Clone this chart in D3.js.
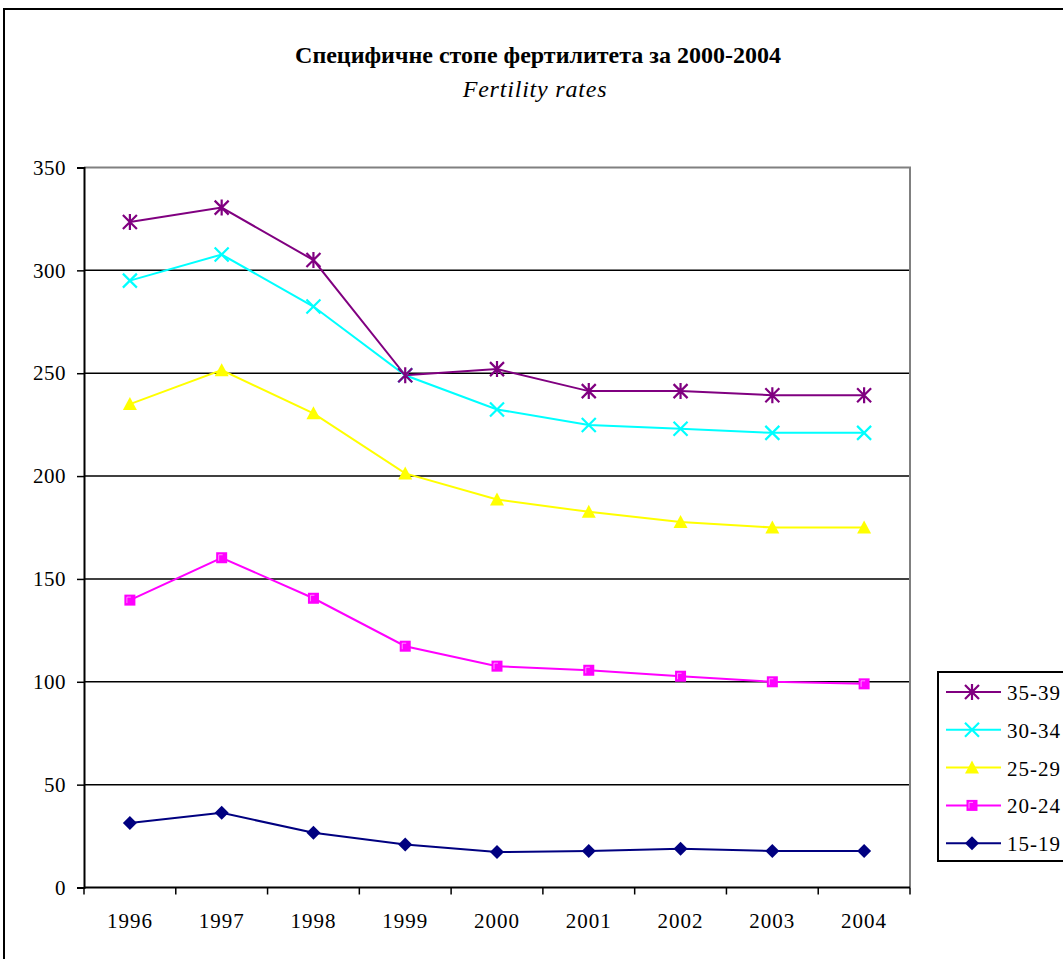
<!DOCTYPE html>
<html><head><meta charset="utf-8">
<script src="https://cdn.jsdelivr.net/npm/d3@7"></script>
<style>body{margin:0;background:#fff;} svg{display:block;}</style>
</head><body>
<svg id="c" width="1063" height="959"></svg>
<script>
const years = ["1996","1997","1998","1999","2000","2001","2002","2003","2004"];
const s35_39 = [323.5, 330.5, 305, 249, 252, 241.3, 241.3, 239.3, 239.3];
const s30_34 = [295, 307.7, 282.4, 249, 232.4, 224.8, 223, 221, 221];
const s25_29 = [235, 251.5, 230.5, 201.3, 188.6, 182.6, 177.7, 175, 175];
const s20_24 = [139.7, 160.3, 140.6, 117.3, 107.6, 105.6, 102.7, 100, 99];
const s15_19 = [31.4, 36.3, 26.6, 20.9, 17.2, 17.8, 18.8, 17.8, 17.8];
const seriesNames = ["35-39","30-34","25-29","20-24","15-19"];
const yTicks = [0,50,100,150,200,250,300,350];
const titleText = "Специфичне стопе фертилитета за 2000-2004";
const subtitleText = "Fertility rates";

const series = [
  {name:"35-39", values:s35_39, color:"#800080", marker:"asterisk"},
  {name:"30-34", values:s30_34, color:"#00FFFF", marker:"x"},
  {name:"25-29", values:s25_29, color:"#FFFF00", marker:"triangle"},
  {name:"20-24", values:s20_24, color:"#FF00FF", marker:"square"},
  {name:"15-19", values:s15_19, color:"#000080", marker:"diamond"}
];

const svg = d3.select("#c");
const font = "'Liberation Serif','Times New Roman',serif";
// outer border
svg.append("rect").attr("x",4).attr("y",9).attr("width",1100).attr("height",1000)
  .attr("fill","#fff").attr("stroke","#000").attr("stroke-width",2);

const L=84, R=910, T=167.5, B=887.5;
const x = d3.scaleBand().domain(years).range([L,R]);
const y = d3.scaleLinear().domain([0,350]).range([B,T]);

// title
svg.append("text").attr("x",538).attr("y",63).attr("text-anchor","middle")
  .attr("font-family",font).attr("font-weight","bold").attr("font-size",24)
  .text(titleText);
svg.append("text").attr("x",535).attr("y",97).attr("text-anchor","middle")
  .attr("font-family",font).attr("font-style","italic").attr("font-size",24)
  .attr("letter-spacing",0.8).text(subtitleText);

// gridlines
svg.append("g").selectAll("line").data(yTicks.filter(d=>d>0 && d<350)).join("line")
  .attr("x1",L).attr("x2",R).attr("y1",d=>y(d)).attr("y2",d=>y(d))
  .attr("stroke","#000").attr("stroke-width",1.5);
// plot border top/right grey
svg.append("path").attr("d",`M${L},${T}H${R}V${B}`).attr("fill","none")
  .attr("stroke","#808080").attr("stroke-width",2);

// axes
const yAxis = d3.axisLeft(y).tickValues(yTicks).tickSize(7).tickPadding(11);
const gy = svg.append("g").attr("transform",`translate(${L},0)`).call(yAxis);
gy.select(".domain").attr("stroke","#000").attr("stroke-width",2);
gy.selectAll(".tick line").attr("stroke","#000").attr("stroke-width",1.5);
gy.selectAll("text").attr("font-family",font).attr("font-size",21).attr("letter-spacing",0.5).attr("fill","#000");

const xAxis = d3.axisBottom(x).tickSize(0).tickPadding(0);
const gx = svg.append("g").attr("transform",`translate(0,${B})`).call(xAxis);
gx.select(".domain").remove();
gx.selectAll("text").attr("font-family",font).attr("font-size",21).attr("letter-spacing",1)
  .attr("fill","#000").attr("y",40).attr("dy",0);
gx.append("line").attr("x1",L).attr("x2",R).attr("stroke","#000").attr("stroke-width",2);
const bounds = years.map(d=>x(d)).concat([R]);
gx.selectAll(".bt").data(bounds).join("line").attr("class","bt")
  .attr("x1",d=>d).attr("x2",d=>d).attr("y1",0).attr("y2",7)
  .attr("stroke","#000").attr("stroke-width",1.5);

function drawMarker(g, type, color){
  if(type==="asterisk"){
    const r=7;
    g.append("path").attr("d",`M${-r},${-r}L${r},${r}M${-r},${r}L${r},${-r}M0,${-r-1}V${r+1}`)
      .attr("stroke",color).attr("stroke-width",2.2).attr("fill","none");
  } else if(type==="x"){
    const r=7;
    g.append("path").attr("d",`M${-r},${-r}L${r},${r}M${-r},${r}L${r},${-r}`)
      .attr("stroke",color).attr("stroke-width",2.2).attr("fill","none");
  } else if(type==="triangle"){
    g.append("path").attr("d","M0,-7L7,6L-7,6Z").attr("fill",color);
  } else if(type==="square"){
    g.append("rect").attr("x",-5.5).attr("y",-5.5).attr("width",11).attr("height",11)
      .attr("fill",color);
    g.append("path").attr("d","M-3,3V-3H1").attr("stroke","#fff").attr("stroke-width",0.8).attr("fill","none").attr("opacity",0.7);
  } else if(type==="diamond"){
    g.append("path").attr("d","M0,-7L7,0L0,7L-7,0Z").attr("fill",color);
  }
}

const line = d3.line().x((d,i)=>x(years[i])+x.bandwidth()/2).y(d=>y(d));
series.slice().reverse().forEach(s=>{
  svg.append("path").datum(s.values).attr("d",line).attr("fill","none")
    .attr("stroke",s.color).attr("stroke-width",2);
});
series.slice().reverse().forEach(s=>{
  s.values.forEach((v,i)=>{
    const g = svg.append("g").attr("transform",`translate(${x(years[i])+x.bandwidth()/2},${y(v)})`);
    drawMarker(g, s.marker, s.color);
  });
});

// legend
const lg = svg.append("g");
lg.append("rect").attr("x",938).attr("y",672).attr("width",140).attr("height",189)
  .attr("fill","#fff").attr("stroke","#000").attr("stroke-width",2);
series.forEach((s,i)=>{
  const yy = 692 + i*37.8;
  lg.append("line").attr("x1",946).attr("x2",1001).attr("y1",yy).attr("y2",yy)
    .attr("stroke",s.color).attr("stroke-width",2);
  const g = lg.append("g").attr("transform",`translate(972,${yy})`);
  drawMarker(g, s.marker, s.color);
  lg.append("text").attr("x",1007).attr("y",yy+8).attr("font-family",font)
    .attr("font-size",21).attr("letter-spacing",1).attr("fill","#000").text(seriesNames[i]);
});
</script>
</body></html>
